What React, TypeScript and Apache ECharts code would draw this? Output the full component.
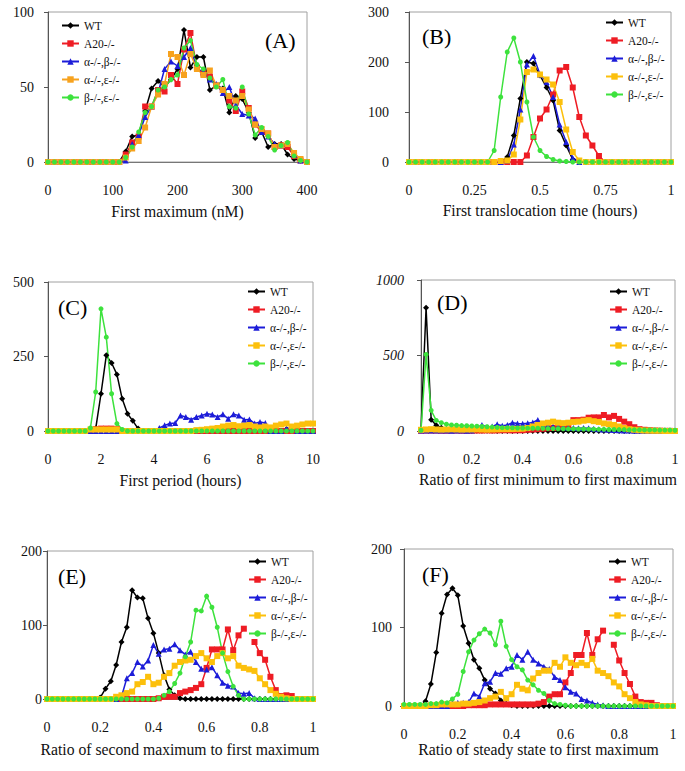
import React, { useEffect, useRef } from "react";
import * as echarts from "echarts";

const SERIF = '"Liberation Serif", "Times New Roman", serif';
const NAMES = ["WT", "A20-/-", "α-/-,β-/-", "α-/-,ε-/-", "β-/-,ε-/-"];

// ---------- x bins ----------
const xA = [0,10,20,30,40,50,60,70,80,90,100,110,120,130,140,150,160,170,180,190,200,210,220,230,240,250,260,270,280,290,300,310,320,330,340,350,360,370,380,390,400];
const xB = [0,0.025,0.05,0.075,0.1,0.125,0.15,0.175,0.2,0.225,0.25,0.275,0.3,0.325,0.35,0.375,0.4,0.425,0.45,0.475,0.5,0.525,0.55,0.575,0.6,0.625,0.65,0.675,0.7,0.725,0.75,0.775,0.8,0.825,0.85,0.875,0.9,0.925,0.95,0.975,1];
const xC = [0,0.2,0.4,0.6,0.8,1,1.2,1.4,1.6,1.8,2,2.2,2.4,2.6,2.8,3,3.2,3.4,3.6,3.8,4,4.2,4.4,4.6,4.8,5,5.2,5.4,5.6,5.8,6,6.2,6.4,6.6,6.8,7,7.2,7.4,7.6,7.8,8,8.2,8.4,8.6,8.8,9,9.2,9.4,9.6,9.8,10];
const xR = [0,0.02,0.04,0.06,0.08,0.1,0.12,0.14,0.16,0.18,0.2,0.22,0.24,0.26,0.28,0.3,0.32,0.34,0.36,0.38,0.4,0.42,0.44,0.46,0.48,0.5,0.52,0.54,0.56,0.58,0.6,0.62,0.64,0.66,0.68,0.7,0.72,0.74,0.76,0.78,0.8,0.82,0.84,0.86,0.88,0.9,0.92,0.94,0.96,0.98,1];

// ---------- Panel A: First maximum (nM) ----------
const A_WT = [0,0,0,0,0,0,0,0,0,0,0,0,7,17,18,34,49,54,50,55,62,88,63,70,70,48,51,49,33,44,42,33,16,20,10,12,12,5,2,1,0];
const A_A20 = [0,0,0,0,0,0,0,0,0,0,0,0,5,13,17,37,37,48,47,58,52,75,86,63,59,57,51,48,41,34,47,36,25,20,19,10,11,10,4,1,0];
const A_AB = [0,0,0,0,0,0,0,0,0,0,0,0,1,12,18,30,37,46,62,67,64,70,76,62,60,55,52,46,50,38,32,31,29,20,17,12,11,12,5,1,0];
const A_AE = [0,0,0,0,0,0,0,0,0,0,0,0,3,9,14,23,37,45,52,72,70,58,72,62,58,61,51,48,44,41,44,35,25,22,19,10,11,12,6,2,0];
const A_BE = [0,0,0,0,0,0,0,0,0,0,0,0,3,10,20,33,37,48,50,55,58,76,81,65,62,56,50,55,37,36,50,32,18,23,17,8,11,13,4,1,0];

// ---------- Panel B: First translocation time ----------
const B_WT = [0,0,0,0,0,0,0,0,0,0,0,0,0,0,0,10,53,127,200,197,173,149,123,63,33,5,0,0,0,0,0,0,0,0,0,0,0,0,0,0,0];
const B_A20 = [0,0,0,0,0,0,0,0,0,0,0,0,0,0,0,0,0,0,13,50,87,105,135,183,190,149,90,53,33,12,0,0,0,0,0,0,0,0,0,0,0];
const B_AB = [0,0,0,0,0,0,0,0,0,0,0,0,0,0,0,3,35,105,195,212,175,160,130,75,40,8,0,0,0,0,0,0,0,0,0,0,0,0,0,0,0];
const B_AE = [0,0,0,0,0,0,0,0,0,0,0,0,0,0,2,3,15,85,180,185,175,165,155,120,65,20,3,0,0,0,0,0,0,0,0,0,0,0,0,0,0];
const B_BE = [0,0,0,0,0,0,0,0,0,0,0,0,0,23,130,220,248,200,120,50,23,11,5,2,1,0,0,0,0,0,0,0,0,0,0,0,0,0,0,0,0];

// ---------- Panel C: First period (hours) ----------
const C_WT = [0,0,0,0,0,0,0,0,0,8,125,254,228,190,108,58,34,8,0,0,0,0,0,0,0,0,0,0,0,0,0,0,0,0,0,0,0,0,0,0,0,0,0,0,0,6,0,0,0,0,0];
const C_A20 = [0,0,0,0,0,0,0,0,0,6,8,8,8,6,0,0,0,0,0,0,0,0,0,0,0,0,0,0,0,0,0,0,0,0,0,0,0,0,0,0,0,0,0,0,0,0,0,0,0,0,0];
const C_AB = [0,0,0,0,0,0,0,0,0,0,0,0,0,0,0,0,0,0,0,0,0,10,19,25,27,52,47,38,47,52,58,55,47,56,41,56,52,38,39,25,30,27,0,0,0,8,10,0,0,0,0];
const C_AE = [0,0,0,0,0,0,0,0,5,5,5,5,5,5,0,0,0,0,0,0,0,0,0,0,0,0,0,0,3,4,6,8,10,15,18,20,16,18,20,15,12,15,12,18,22,25,15,18,22,25,25];
const C_BE = [0,0,0,0,0,0,0,0,10,131,410,315,125,25,5,0,0,0,0,0,0,0,0,0,0,0,0,0,0,0,0,0,0,0,0,0,0,0,0,0,0,0,0,0,0,0,0,0,0,0,0];

// ---------- Panel D: Ratio of first minimum to first maximum ----------
const D_WT = [5,816,75,38,22,12,8,5,4,3,2,2,1,1,1,0,0,0,0,0,0,0,0,0,0,0,0,0,0,0,0,0,0,0,0,0,0,0,0,0,0,0,0,0,0,0,0,0,0,0,0];
const D_A20 = [2,3,3,3,2,2,3,3,2,2,2,3,3,4,3,4,5,5,4,5,5,8,10,12,15,18,20,25,30,40,72,72,75,88,90,90,106,90,100,80,62,45,25,12,8,5,3,2,1,1,0];
const D_AB = [3,4,4,3,3,3,2,3,3,2,3,20,40,25,30,44,35,40,55,50,48,52,57,73,45,35,30,28,25,22,20,18,20,18,15,12,10,8,6,5,4,3,2,2,1,1,0,0,0,0,0];
const D_AE = [8,10,12,10,9,10,11,10,9,10,10,11,10,9,10,11,12,12,13,14,15,20,30,40,50,55,62,55,52,55,60,62,68,72,65,60,50,45,40,30,20,12,8,5,3,2,1,1,0,0,0];
const D_BE = [5,507,137,70,55,45,40,38,36,35,33,32,30,28,26,24,22,22,21,20,20,19,18,18,17,16,16,15,15,14,14,13,13,12,12,11,11,10,10,9,9,8,8,8,7,7,7,6,6,6,5];

// ---------- Panel E: Ratio of second maximum to first maximum ----------
const E_WT = [0,0,0,0,0,0,0,0,0,0,2,14,24,46,77,97,147,137,136,109,89,62,32,13,5,1,0,0,0,0,0,0,0,0,0,0,0,0,0,0,0,0,0,0,0,0,0,0,0,0,0];
const E_A20 = [0,0,0,0,0,0,0,0,0,0,0,0,0,0,0,0,0,0,0,0,0,1,3,3,3,8,10,12,15,20,42,67,67,67,94,66,86,95,null,77,62,53,30,12,4,5,4,0,0,0,0];
const E_AB = [0,0,0,0,0,0,0,0,0,0,0,0,0,0,3,28,35,50,44,52,73,61,67,68,74,66,60,64,50,41,40,43,32,22,18,17,8,7,8,1,0,0,0,0,0,0,0,0,0,0,0];
const E_AE = [0,0,0,0,0,0,0,0,0,0,0,0,0,3,5,8,10,20,23,30,20,22,30,35,45,50,52,53,58,62,55,50,58,62,55,58,45,42,40,38,28,20,12,7,3,1,0,0,0,0,0];
const E_BE = [0,0,0,0,0,0,0,0,0,0,0,0,0,0,0,0,0,0,0,0,0,1,5,10,21,35,57,77,120,119,139,124,97,62,37,17,5,0,0,0,0,0,0,0,0,0,0,0,0,0,0];

// ---------- Panel F: Ratio of steady state to first maximum ----------
const F_WT = [0,0,0,0,6,28,68,118,142,150,141,102,80,59,48,33,22,16,7,3,1,0,0,0,0,0,0,0,0,0,0,0,0,0,0,0,0,0,0,0,0,0,0,0,0,0,0,0,0,0,0];
const F_A20 = [0,0,0,0,0,0,0,0,0,0,0,0,1,1,1,1,2,2,2,2,2,2,2,2,2,3,5,12,15,15,30,42,65,65,93,65,85,96,null,78,58,42,28,12,5,4,4,1,0,0,0];
const F_AB = [0,0,0,0,0,0,0,0,0,4,4,4,5,16,12,29,31,42,41,48,50,65,59,69,59,54,50,47,37,33,24,18,16,9,7,4,2,1,0,0,0,0,0,0,0,0,0,0,0,0,0];
const F_AE = [0,0,0,0,0,1,1,2,2,2,2,3,3,4,5,7,10,12,18,10,15,27,22,20,35,42,45,45,55,50,62,55,52,55,52,60,45,42,38,30,25,15,10,5,2,1,0,0,0,0,0];
const F_BE = [2,2,2,2,2,3,3,5,4,9,15,44,69,84,92,98,93,78,108,76,59,50,46,33,27,20,16,7,3,2,1,0,0,0,0,0,0,0,0,0,0,0,0,0,0,0,0,0,0,0,0];

// ---------- axes / titles ----------
const TITLES = [
  "First maximum (nM)",
  "First translocation time (hours)",
  "First period (hours)",
  "Ratio of first minimum to first maximum",
  "Ratio of second maximum to first maximum",
  "Ratio of steady state to first maximum",
];
const LETTERS = ["(A)", "(B)", "(C)", "(D)", "(E)", "(F)"];
const X_MAX = [400, 1, 10, 1, 1, 1];
const X_STEP = [100, 0.25, 2, 0.2, 0.2, 0.2];
const Y_MAX = [100, 300, 500, 1000, 200, 200];
const Y_STEP = [50, 100, 250, 500, 100, 100];

const PANEL_X = [xA, xB, xC, xR, xR, xR];
const PANEL_Y = [
  [A_WT, A_A20, A_AB, A_AE, A_BE],
  [B_WT, B_A20, B_AB, B_AE, B_BE],
  [C_WT, C_A20, C_AB, C_AE, C_BE],
  [D_WT, D_A20, D_AB, D_AE, D_BE],
  [E_WT, E_A20, E_AB, E_AE, E_BE],
  [F_WT, F_A20, F_AB, F_AE, F_BE],
];

// ---------- layout & style ----------
const LAYOUT = [
  { grid: { left: 48, top: 12, width: 259, height: 150 }, yMargin: 14, nameGap: 41, letter: [265, 29], legend: [61, 19] },
  { grid: { left: 409, top: 12, width: 262, height: 150 }, yMargin: 20, nameGap: 40, letter: [422, 25], legend: [605, 16] },
  { grid: { left: 48, top: 282, width: 265, height: 149 }, yMargin: 14, nameGap: 41, letter: [58, 296], legend: [247, 285] },
  { grid: { left: 421, top: 280, width: 254, height: 151 }, yMargin: 17, nameGap: 40, letter: [437, 291], legend: [609, 285] },
  { grid: { left: 47, top: 551, width: 266, height: 148 }, yMargin: 5, nameGap: 42, letter: [58, 565], legend: [248, 555] },
  { grid: { left: 404, top: 549, width: 269, height: 157 }, yMargin: 12, nameGap: 35, letter: [422, 563], legend: [608, 555] },
];
const SYMBOLS = ["diamond", "rect", "triangle", "rect", "circle"];
const SYM_SIZE = [6, 6, 6, 6, 5];
const COLORS_A = ["#000000", "#ee1c24", "#1c1cd8", "#f7a21e", "#3de23d"];
const COLORS = ["#000000", "#ee1c24", "#1c1cd8", "#fcc00c", "#3de23d"];

function buildOption() {
  const grid: any[] = [];
  const xAxis: any[] = [];
  const yAxis: any[] = [];
  const series: any[] = [];
  const legend: any[] = [];
  const graphic: any[] = [];

  LAYOUT.forEach((L, p) => {
    const colors = p === 0 ? COLORS_A : COLORS;
    grid.push({ ...L.grid, show: true, borderColor: "#a0a0a0", borderWidth: 1, backgroundColor: "transparent" });
    xAxis.push({
      gridIndex: p, type: "value", min: 0, max: X_MAX[p], interval: X_STEP[p],
      name: TITLES[p], nameLocation: "middle", nameGap: L.nameGap,
      nameTextStyle: { fontFamily: SERIF, fontSize: 15.7, color: "#111" },
      axisLine: { show: true, onZero: false, lineStyle: { color: "#777", width: 1 } },
      axisTick: { show: false },
      splitLine: { show: false },
      axisLabel: { margin: 21, fontFamily: SERIF, fontSize: 14, color: "#111", formatter: (v: number) => String(v) },
    });
    yAxis.push({
      gridIndex: p, type: "value", min: 0, max: Y_MAX[p], interval: Y_STEP[p],
      axisLine: { show: true, lineStyle: { color: "#555", width: 1 } },
      axisTick: { show: true, length: 4, lineStyle: { color: "#555" } },
      splitLine: { show: false },
      axisLabel: {
        margin: L.yMargin, fontFamily: SERIF, fontSize: 14, color: "#111",
        fontStyle: p === 3 ? "italic" : "normal", formatter: (v: number) => String(v),
      },
    });
    const xs = PANEL_X[p];
    PANEL_Y[p].forEach((ys, k) => {
      series.push({
        type: "line", name: NAMES[k], xAxisIndex: p, yAxisIndex: p,
        data: xs.map((x, i) => [x, ys[i] == null ? "-" : ys[i]]),
        symbol: SYMBOLS[k], symbolSize: SYM_SIZE[k], showSymbol: true,
        connectNulls: false,
        lineStyle: { color: colors[k], width: 1.5 },
        itemStyle: { color: colors[k], borderWidth: 0 },
        emphasis: { disabled: true },
      });
    });
    legend.push({
      orient: "vertical", left: L.legend[0], top: L.legend[1],
      itemWidth: 17, itemHeight: 8, itemGap: 5, padding: 0, selectedMode: false,
      textStyle: { fontFamily: SERIF, fontSize: 11.5, color: "#111", lineHeight: 13 },
      data: NAMES.map((n, k) => ({ name: n, itemStyle: { color: colors[k] }, lineStyle: { color: colors[k], width: 2 } })),
    });
    graphic.push({
      type: "text", left: L.letter[0], top: L.letter[1],
      style: { text: LETTERS[p], fontFamily: SERIF, fontSize: 22, fill: "#000" },
    });
  });

  return { animation: false, backgroundColor: "#fff", grid, xAxis, yAxis, series, legend, graphic };
}

export default function App() {
  const ref = useRef<HTMLDivElement>(null);
  useEffect(() => {
    if (!ref.current) return;
    const chart = echarts.init(ref.current, undefined, { renderer: "svg" });
    chart.setOption(buildOption() as any);
    return () => chart.dispose();
  }, []);
  return (
    <div
      ref={ref}
      style={{ position: "fixed", left: 0, top: 0, width: 685, height: 771, background: "#fff" }}
    />
  );
}
